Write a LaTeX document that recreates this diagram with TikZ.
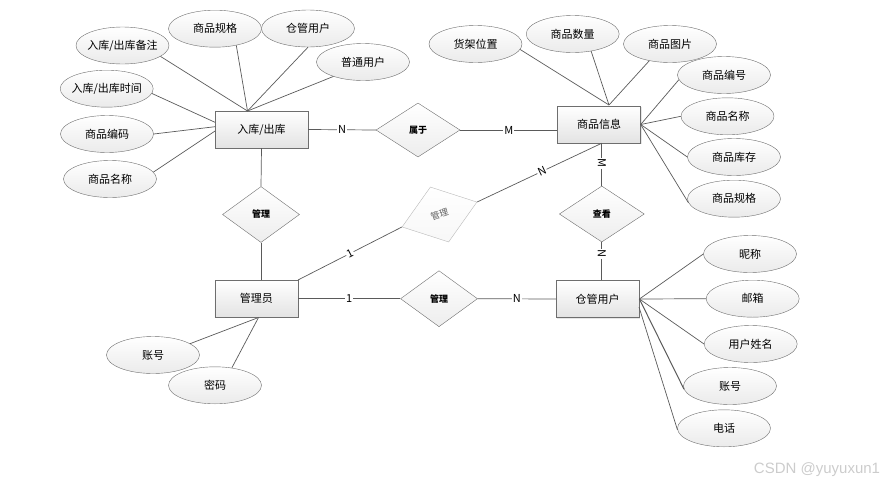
\documentclass[tikz,border=0pt]{standalone}
\usepackage{fontspec}
\setmainfont{Noto Sans CJK SC}
\newfontfamily\markfont{Liberation Sans}
\usepackage{xcolor}
\usepackage{tikz}
\usetikzlibrary{shapes,shadows,positioning}

\definecolor{edgeC}{HTML}{5A5A5A}
\definecolor{borderC}{HTML}{6E6E6E}

\begin{document}
\begin{tikzpicture}[
		x=1pt, y=-1pt,
		font=\fontsize{11}{13}\selectfont,
		entity/.style={draw=borderC, rectangle, minimum width=83pt, minimum height=37pt, top color=white, bottom color=gray!22, drop shadow={opacity=0.2, shadow xshift=1pt, shadow yshift=-1pt}},
		attr/.style={draw=borderC, ellipse, minimum width=93pt, minimum height=37pt, inner xsep=-10pt, inner ysep=0pt, top color=white, bottom color=gray!16},
		rel/.style={draw=borderC, diamond, minimum width=77pt, minimum height=56pt, inner sep=0pt, top color=white, bottom color=gray!14, font=\fontsize{9}{10}\selectfont\bfseries},
		card/.style={fill=white, inner sep=1pt, font=\fontsize{11}{12}\selectfont},
		link/.style={draw=edgeC, line width=0.7pt}
		]
		\useasboundingbox (0,0) rectangle (886,485);
		
		% Entities
		\node[entity, minimum width=93pt] (rk) at (261.5,129.5) {入库/出库};
		\node[entity] (sp) at (599,124.5) {商品信息};
		\node[entity] (gly) at (256.3,298.7) {管理员};
		\node[entity] (ck) at (597.7,299) {仓管用户};
		
		% Relationships
		\node[rel, minimum width=84pt, minimum height=54pt] (sy) at (418,130) {属于};
		\node[rel] (gl1) at (261,214.5) {管理};
		\node[rel, draw=gray!55, rotate=18.4, minimum width=79pt, minimum height=58pt, text=gray!75!black, bottom color=gray!6, font=\fontsize{9}{10}\selectfont] (gl2) at (439.5,214.5) {管理};
		\node[rel] (gl3) at (439,298.7) {管理};
		\node[rel, minimum width=85pt] (ck1) at (601.8,214) {查看};
		
		% Attributes of 入库/出库
		\node[attr] (a1) at (122.5,45.5) {入库/出库备注};
		\node[attr] (a2) at (215,28.7) {商品规格};
		\node[attr] (a3) at (308,28.5) {仓管用户};
		\node[attr] (a4) at (363,62) {普通用户};
		\node[attr] (a5) at (106.7,88.7) {入库/出库时间};
		\node[attr] (a6) at (107,134) {商品编码};
		\node[attr] (a7) at (110,179) {商品名称};
		
		% Attributes of 商品信息
		\node[attr] (b1) at (475.5,44) {货架位置};
		\node[attr] (b2) at (572.7,34) {商品数量};
		\node[attr] (b3) at (670,44) {商品图片};
		\node[attr] (b4) at (724,75) {商品编号};
		\node[attr] (b5) at (727.5,116.3) {商品名称};
		\node[attr] (b6) at (734,157) {商品库存};
		\node[attr] (b7) at (734,198.7) {商品规格};
		
		% Attributes of 仓管用户
		\node[attr] (c1) at (750,254) {昵称};
		\node[attr] (c2) at (752.7,298.7) {邮箱};
		\node[attr] (c3) at (750.7,344) {用户姓名};
		\node[attr] (c4) at (730,386) {账号};
		\node[attr] (c5) at (724,428.3) {电话};
		
		% Attributes of 管理员
		\node[attr] (d1) at (153,355) {账号};
		\node[attr] (d2) at (215,385.3) {密码};
		
		% Connection points
		\coordinate (rkTop) at (247.5,111);
		\coordinate (rkW1) at (215,122.3);
		\coordinate (rkW2) at (215,126.7);
		\coordinate (rkW3) at (215,131);
		\coordinate (spTop) at (609,105);
		\coordinate (spBot) at (ck1.north |- sp.south);
		\coordinate (ckE2) at (639,307);
		\coordinate (glyBot) at (258.5,317.5);
		
		% Attribute links
		\draw[link] (a1.-16) -- (rkTop);
		\draw[link] (a2.-38) -- (rkTop);
		\draw[link] (a3.south) -- (rkTop);
		\draw[link] (a4.-154) -- (rkTop);
		\draw[link] (a5.-6) -- (rkW1);
		\draw[link] (a6.east) -- (rkW2);
		\draw[link] (a7.9) -- (rkW3);
		
		\draw[link] (b1.-7) -- (spTop);
		\draw[link] (b2.-43) -- (spTop);
		\draw[link] (b3.-141) -- (spTop);
		\draw[link] (b4.-174) -- (sp.east);
		\draw[link] (b5.west) -- (sp.east);
		\draw[link] (b6.west) -- (sp.east);
		\draw[link] (b7.-175) -- (sp.east);
		
		\draw[link] (c1.west) -- (ck.east);
		\draw[link] (c2.west) -- (ck.east);
		\draw[link] (c3.west) -- (ck.east);
		\draw[link, line width=1pt] (c4.-176) -- (ck.east);
		\draw[link] (c5.-178) -- (ckE2);
		
		\draw[link] (d1.17) -- (glyBot);
		\draw[link] (d2.46) -- (glyBot);
		
		% Relationship links
		\draw[link] (rk.east) -- node[card] {N} (sy.west);
		\draw[link] (sy.east) -- node[card] {M} (sy.east -| sp.west);
		\draw[link] (rk.south) -- (gl1.north);
		\draw[link] (gl1.south) -- (gl1.south |- gly.north);
		\draw[link] (gly.north east) -- node[card, sloped] {1} (gl2.west);
		\draw[link] (gl2.east) -- node[card, sloped, pos=0.52] {N} (spBot);
		\draw[link] (gly.east) -- node[card] {1} (gl3.west);
		\draw[link] (gl3.east) -- node[card] {N} (ck.west);
		\draw[link] (spBot) -- node[card, rotate=-90, pos=0.47] {M} (ck1.north);
		\draw[link] (ck1.south) -- node[card, rotate=90, pos=0.31] {N} (ck1.south |- ck.north);
		
		% Watermark
		\node[text=gray!40, font=\markfont\fontsize{15}{17}\selectfont] (wm) at (817,470) {CSDN @yuyuxun1};
		
	\end{tikzpicture}
\end{document}
